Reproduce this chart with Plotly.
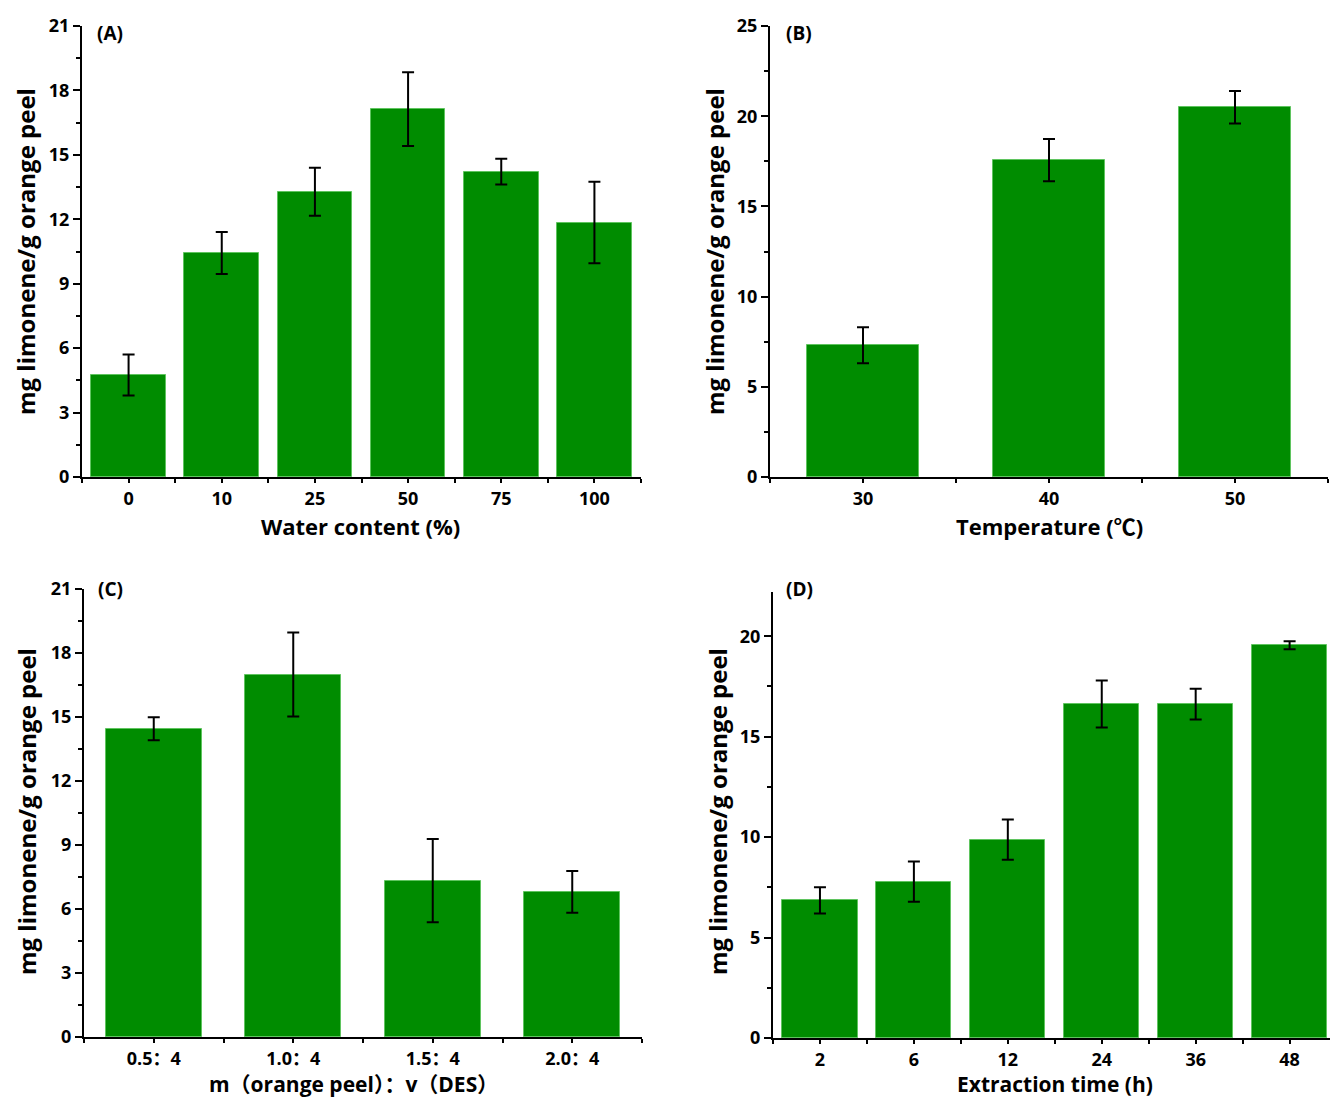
import plotly.graph_objects as go

# ---------------- data ----------------
water_labels = ["0", "10", "25", "50", "75", "100"]
water_values = [4.75, 10.43, 13.28, 17.13, 14.22, 11.85]
water_errors = [0.95, 0.98, 1.12, 1.72, 0.60, 1.90]

temp_labels = ["30", "40", "50"]
temp_values = [7.30, 17.57, 20.50]
temp_errors = [1.00, 1.17, 0.90]

ratio_labels = ["0.5：4", "1.0：4", "1.5：4", "2.0：4"]
ratio_values = [14.45, 16.99, 7.33, 6.80]
ratio_errors = [0.54, 1.97, 1.95, 0.98]

time_labels = ["2", "6", "12", "24", "36", "48"]
time_values = [6.85, 7.78, 9.87, 16.62, 16.62, 19.55]
time_errors = [0.65, 1.00, 1.00, 1.17, 0.77, 0.20]

GREEN = "#008c00"
FONT = "Open Sans, Noto Sans CJK SC, sans-serif"
W, H = 1330, 1099

fig = go.Figure()

def px(x):
    return x / W

def py(y):
    return (H - y) / H

panels = [
    (water_labels, water_values, water_errors, 0.8, "x", "y",
     [px(82), px(641)], [py(477), py(26)], [-0.5, 5.5], [0, 21], 3, 1.5),
    (temp_labels, temp_values, temp_errors, 0.6, "x2", "y2",
     [px(770), px(1328)], [py(477), py(26)], [-0.5, 2.5], [0, 25], 5, 2.5),
    (ratio_labels, ratio_values, ratio_errors, 0.69, "x3", "y3",
     [px(84), px(642)], [py(1037), py(589)], [-0.5, 3.5], [0, 21], 3, 1.5),
    (time_labels, time_values, time_errors, 0.8, "x4", "y4",
     [px(773), 1.0], [py(1038), py(592)], [-0.5, 5.43], [0, 22.2], 5, 2.5),
]

tick_font = dict(family=FONT, size=18, color="black", weight="bold")

for i, (labels, vals, errs, bw, xa, ya, xd, yd, xr, yr, dt, mdt) in enumerate(panels):
    idx = list(range(len(labels)))
    fig.add_trace(go.Bar(
        x=idx, y=vals, width=bw, xaxis=xa, yaxis=ya,
        marker=dict(color=GREEN, line=dict(color="#5fc45f", width=1)),
        error_y=dict(type="data", array=errs, visible=True,
                     color="black", thickness=2, width=6),
        showlegend=False,
    ))
    suffix = "" if i == 0 else str(i + 1)
    axis_common = dict(
        showline=True, linecolor="black", linewidth=2,
        showgrid=False, zeroline=False, ticks="outside",
        tickcolor="black", tickwidth=2, automargin=False,
        tickfont=tick_font,
    )
    fig.update_layout(**{
        "xaxis" + suffix: dict(
            domain=xd, range=xr, anchor=ya, ticklen=4,
            tickmode="array", tickvals=idx, ticktext=labels,
            minor=dict(tickmode="array",
                       tickvals=[k + 0.5 for k in range(-1, len(labels))],
                       ticks="outside", ticklen=4, tickcolor="black", tickwidth=2),
            **axis_common,
        ),
        "yaxis" + suffix: dict(
            domain=yd, range=yr, anchor=xa, ticklen=7,
            tickmode="linear", tick0=0, dtick=dt,
            minor=dict(tickmode="linear", tick0=0, dtick=mdt, ticks="outside",
                       ticklen=4, tickcolor="black", tickwidth=2),
            **axis_common,
        ),
    })

ytitle = "mg limonene/g orange peel"
title_font = dict(family=FONT, size=24, color="black", weight="bold")
xtitle_font = dict(family=FONT, size=22, color="black", weight="bold")
xtitle_font_low = dict(family=FONT, size=21, color="black", weight="bold")
label_font = dict(family=FONT, size=19, color="black", weight="bold")

annotations = [
    dict(x=px(26), y=py(252), text=ytitle, textangle=-90, font=title_font),
    dict(x=px(715), y=py(252), text=ytitle, textangle=-90, font=title_font),
    dict(x=px(26), y=py(812), text=ytitle, textangle=-90, font=title_font),
    dict(x=px(717), y=py(812), text=ytitle, textangle=-90, font=title_font),
    dict(x=px(360), y=py(526), text="Water content (%)", font=xtitle_font),
    dict(x=px(1049), y=py(526), text="Temperature (℃)", font=xtitle_font),
    dict(x=px(353), y=py(1099), text="m（orange peel）：v（DES）",
         font=xtitle_font_low, yanchor="bottom"),
    dict(x=px(1055), y=py(1099), text="Extraction time (h)",
         font=xtitle_font_low, yanchor="bottom"),
    dict(x=px(110), y=py(33), text="(A)", font=label_font),
    dict(x=px(799), y=py(33), text="(B)", font=label_font),
    dict(x=px(110), y=py(589), text="(C)", font=label_font),
    dict(x=px(799), y=py(589), text="(D)", font=label_font),
]
for a in annotations:
    a.setdefault("yanchor", "middle")
    a.update(xref="paper", yref="paper", showarrow=False,
             xanchor="center", borderpad=0)

fig.update_layout(
    width=W, height=H,
    margin=dict(l=0, r=0, t=0, b=0, autoexpand=False),
    paper_bgcolor="white", plot_bgcolor="white",
    annotations=annotations,
    bargap=0,
)

fig.write_html("out.html")
